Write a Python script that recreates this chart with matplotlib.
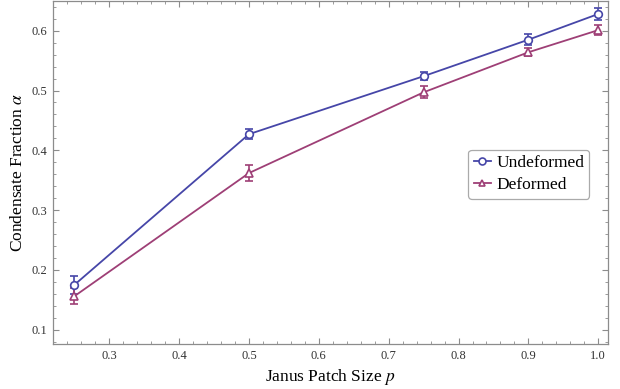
import numpy as np
import matplotlib
matplotlib.use("Agg")
import matplotlib.pyplot as plt
from matplotlib.ticker import MultipleLocator
from matplotlib.lines import Line2D

plt.rcParams['font.family'] = ['Liberation Serif', 'DejaVu Serif']
plt.rcParams['mathtext.fontset'] = 'stix'

p = [0.25, 0.5, 0.75, 0.9, 1.0]
undeformed = [0.175, 0.427, 0.524, 0.585, 0.628]
undeformed_err = [0.015, 0.008, 0.007, 0.009, 0.010]
deformed = [0.156, 0.362, 0.497, 0.564, 0.601]
deformed_err = [0.013, 0.013, 0.010, 0.007, 0.008]

blue = '#4646a8'
purple = '#9e3f76'
frame = '#8c8c8c'

fig = plt.figure(figsize=(6.2, 3.89), dpi=100)
ax = fig.add_axes([0.0855, 0.1157, 0.8955, 0.8817])

ax.errorbar(p, undeformed, yerr=undeformed_err, color=blue, marker='o', ms=5.5,
            mfc='white', mew=1.2, lw=1.3, capsize=3, elinewidth=1.2, capthick=1.2)
ax.errorbar(p, deformed, yerr=deformed_err, color=purple, marker='^', ms=5.5,
            mfc='white', mew=1.2, lw=1.3, capsize=3, elinewidth=1.2, capthick=1.2)

ax.set_xlim(0.2194, 1.0143)
ax.set_ylim(0.0761, 0.6497)
ax.xaxis.set_minor_locator(MultipleLocator(0.02))
ax.yaxis.set_minor_locator(MultipleLocator(0.02))
ax.set_xticks([0.3, 0.4, 0.5, 0.6, 0.7, 0.8, 0.9, 1.0])
ax.set_xticklabels(['0.3', '0.4', '0.5', '0.6', '0.7', '0.8', '0.9', '1.0'])
ax.set_yticks([0.1, 0.2, 0.3, 0.4, 0.5, 0.6])
ax.set_yticklabels(['0.1', '0.2', '0.3', '0.4', '0.5', '0.6'])

ax.tick_params(which='both', direction='in', top=True, right=True, color=frame,
               labelsize=9, labelcolor='#333333', pad=4)
ax.tick_params(which='major', length=4, width=0.8)
ax.tick_params(which='minor', length=2, width=0.6)
for s in ax.spines.values():
    s.set_color(frame)
    s.set_linewidth(0.9)

ax.set_xlabel('Janus Patch Size $p$', fontsize=12.5, labelpad=4)
ax.set_ylabel(r'Condensate Fraction $\alpha$', fontsize=12.5, labelpad=4)

handles = [
    Line2D([], [], color=blue, marker='o', ms=5, mfc='white', mew=1.2, lw=1.3),
    Line2D([], [], color=purple, marker='^', ms=5, mfc='white', mew=1.2, lw=1.3),
]
leg = ax.legend(handles, ['Undeformed', 'Deformed'], loc='upper left',
                bbox_to_anchor=(0.748, 0.566), fontsize=12.5,
                frameon=True, fancybox=True, handlelength=1.0, handletextpad=0.3,
                borderpad=0.3, labelspacing=0.35, borderaxespad=0)
leg.get_frame().set_edgecolor('#aaaaaa')
leg.get_frame().set_linewidth(0.9)
leg.get_frame().set_alpha(1)

fig.savefig('out.png', dpi=100)
